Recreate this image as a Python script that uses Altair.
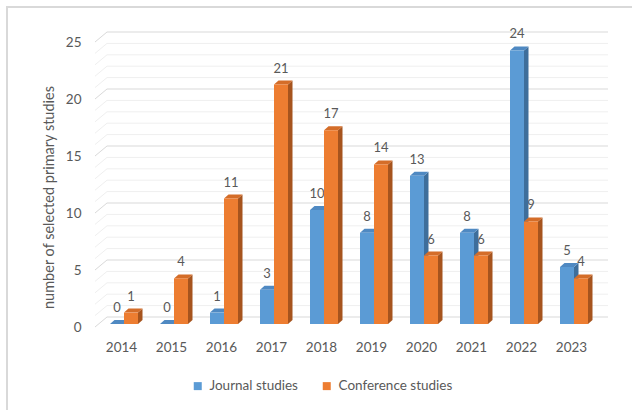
import altair as alt
import pandas as pd

# Number of selected primary studies per year
years = [2014, 2015, 2016, 2017, 2018, 2019, 2020, 2021, 2022, 2023]
journal = [0, 0, 1, 3, 10, 8, 13, 8, 24, 5]
conference = [1, 4, 11, 21, 17, 14, 6, 6, 9, 4]
series_names = ["Journal studies", "Conference studies"]
y_ticks = [0, 5, 10, 15, 20, 25]

front_colors = ["#5B9BD5", "#ED7D31"]
top_colors = ["#4F89C2", "#D46D29"]
side_colors = ["#3E6E9B", "#A6541E"]
text_color = "#595959"
font = "Lato"

rows = []
for y, j, c in zip(years, journal, conference):
    rows.append({"year": y, "series": series_names[0], "value": j})
    rows.append({"year": y, "series": series_names[1], "value": c})
df = pd.DataFrame(rows)

grid_levels = pd.DataFrame({"level": list(range(0, 26))})

# bar geometry in data units: front width, depth shift along x and y
BW = 0.28
DX = 0.09
DV = 0.35

X_SCALE = alt.Scale(domain=[2013.5, 2023.5], nice=False, zero=False)
Y_SCALE = alt.Scale(domain=[0, 25], nice=False)

X_AXIS = alt.Axis(
    values=years, format="d", title=None, domain=False, ticks=False,
    grid=False, labelPadding=16, labelOffset=-3, labelFontSize=13.5,
    labelFont=font, labelColor=text_color, labelFlush=False,
)
Y_AXIS = alt.Axis(
    values=y_ticks, title="number of selected primary studies",
    domain=False, ticks=False, grid=False, labelPadding=18, labelOffset=3,
    labelFontSize=13.5, labelFont=font, labelColor=text_color,
    titleFont=font, titleFontSize=14.5, titleFontWeight="normal",
    titleColor=text_color, titleX=-50, titleY=158, titleAngle=270,
    titleAlign="center", titleBaseline="middle",
)

base = alt.Chart(df).transform_calculate(
    xl=f"datum.year + (datum.series == '{series_names[0]}' ? -{BW} : 0)"
).transform_calculate(
    xr=f"datum.xl + {BW}",
    xc=f"datum.xl + {BW / 2}",
)

# chart frame
frame = alt.Chart(grid_levels).mark_rect(
    fill="transparent", stroke="#D9D9D9", strokeWidth=2
).encode(
    x=alt.value(-92), x2=alt.value(640), y=alt.value(-32), y2=alt.value(480)
)

grid_minor = alt.Chart(grid_levels).transform_filter("datum.level % 5 != 0")
grid_major = alt.Chart(grid_levels).transform_filter("datum.level % 5 == 0")


def back_wall(src, color):
    return src.mark_rule(color=color, strokeWidth=1, yOffset=-7).encode(
        y=alt.Y("level:Q", scale=Y_SCALE, axis=Y_AXIS),
        x=alt.value(8),
        x2=alt.value(509),
    )


def side_wall(src, color):
    return src.mark_rule(color=color, strokeWidth=1, yOffset=3, y2Offset=-7).encode(
        y=alt.Y("level:Q", scale=Y_SCALE, axis=Y_AXIS),
        y2="level:Q",
        x=alt.value(-4),
        x2=alt.value(8),
    )


grid = alt.layer(
    back_wall(grid_minor, "#EFEFEF"),
    side_wall(grid_minor, "#EFEFEF"),
    back_wall(grid_major, "#D9D9D9"),
    side_wall(grid_major, "#D9D9D9"),
)

labels = base.mark_text(
    font=font, fontSize=13, color=text_color, baseline="middle", dy=-16
).encode(
    x=alt.X("xc:Q", scale=X_SCALE, axis=X_AXIS),
    y=alt.Y("value:Q", scale=Y_SCALE, axis=Y_AXIS),
    text="value:Q",
)

pts = base.transform_calculate(pt="[0, 1]").transform_flatten(["pt"])

sides = pts.transform_calculate(
    sx=f"datum.xr + datum.pt * {DX}",
    sy=f"datum.pt * {DV}",
    sy2=f"datum.value + datum.pt * {DV}",
).mark_area(orient="vertical").encode(
    x=alt.X("sx:Q", scale=X_SCALE, axis=X_AXIS),
    y=alt.Y("sy:Q", scale=Y_SCALE, axis=Y_AXIS, stack=None),
    y2="sy2:Q",
    detail=["year:O", "series:N"],
    color=alt.Color("series:N", scale=alt.Scale(domain=series_names, range=side_colors), legend=None),
)

tops = pts.transform_calculate(
    ty=f"datum.value + datum.pt * {DV}",
    tx=f"datum.xl + datum.pt * {DX}",
    tx2=f"datum.xr + datum.pt * {DX}",
).mark_area(orient="horizontal").encode(
    y=alt.Y("ty:Q", scale=Y_SCALE, axis=Y_AXIS),
    x=alt.X("tx:Q", scale=X_SCALE, axis=X_AXIS, stack=None),
    x2="tx2:Q",
    detail=["year:O", "series:N"],
    color=alt.Color("series:N", scale=alt.Scale(domain=series_names, range=top_colors), legend=None),
)

fronts = base.mark_rect().encode(
    x=alt.X("xl:Q", scale=X_SCALE, axis=X_AXIS),
    x2="xr:Q",
    y=alt.Y("value:Q", scale=Y_SCALE, axis=Y_AXIS),
    y2=alt.datum(0),
    color=alt.Color(
        "series:N",
        scale=alt.Scale(domain=series_names, range=front_colors),
        legend=alt.Legend(
            title=None, orient="none", legendX=92, legendY=340, direction="horizontal",
            symbolType="square", symbolSize=64, symbolStrokeWidth=0,
            labelFont=font, labelFontSize=13.5, labelColor=text_color,
            columnPadding=22, labelOffset=5,
        ),
    ),
)

chart = alt.layer(
    frame, grid, labels, sides, tops, fronts
).resolve_scale(color="independent").properties(
    width=500,
    height=285,
    autosize=alt.AutoSizeParams(type="none"),
    padding={"left": 99, "top": 39, "right": 33, "bottom": 86},
    background="white",
).configure_view(stroke=None)

chart.save("out.html", embed_options={"renderer": "svg", "actions": False})
